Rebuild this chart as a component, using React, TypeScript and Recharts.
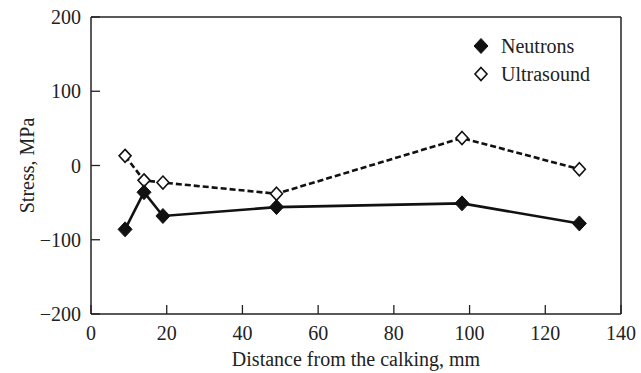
import { LineChart, Line, XAxis, YAxis, ReferenceLine } from 'recharts';

const distances = [9, 14, 19, 49, 98, 129];
const neutrons = [-86, -36, -68, -56, -51, -78];
const ultrasound = [13, -20, -23, -38, 37, -5];
const xTicks = [0, 20, 40, 60, 80, 100, 120, 140];
const yTicks = [-200, -100, 0, 100, 200];
const seriesNames = ['Neutrons', 'Ultrasound'];

const data = distances.map((d, i) => ({ d, neutrons: neutrons[i], ultrasound: ultrasound[i] }));

const FONT = '"Liberation Serif", "Times New Roman", serif';

function Diamond({ cx, cy, filled }: { cx: number; cy: number; filled: boolean }) {
  const w = filled ? 7 : 6;
  const h = filled ? 7.5 : 6.5;
  return (
    <polygon
      points={`${cx},${cy - h} ${cx + w},${cy} ${cx},${cy + h} ${cx - w},${cy}`}
      fill={filled ? '#111' : '#fff'}
      stroke="#111"
      strokeWidth={filled ? 1 : 1.6}
    />
  );
}

function XTick({ x, y, payload }: any) {
  return (
    <g>
      <line x1={x} y1={y} x2={x} y2={y - 9} stroke="#222" strokeWidth={1.3} />
      <text x={x} y={y + 26} textAnchor="middle" fontSize={20} fill="#222" fontFamily={FONT}>
        {payload.value}
      </text>
    </g>
  );
}

function YTick({ x, y, payload }: any) {
  const v = payload.value;
  return (
    <g>
      <line x1={x} y1={y} x2={x + 9} y2={y} stroke="#222" strokeWidth={1.3} />
      <text x={x - 10} y={y + 7} textAnchor="end" fontSize={20} fill="#222" fontFamily={FONT}>
        {v < 0 ? `\u2212${Math.abs(v)}` : v}
      </text>
    </g>
  );
}

function LegendBox() {
  return (
    <div style={{ position: 'absolute', left: 472, top: 32, fontFamily: FONT, fontSize: 20, color: '#222' }}>
      {seriesNames.map((name, i) => (
        <div key={name} style={{ display: 'flex', alignItems: 'center', height: 28 }}>
          <svg width={20} height={20} style={{ marginRight: 9 }}>
            <Diamond cx={9} cy={10} filled={i === 0} />
          </svg>
          <span>{name}</span>
        </div>
      ))}
    </div>
  );
}

export default function App() {
  return (
    <div style={{ position: 'absolute', left: 0, top: 0, width: 641, height: 373, background: '#fff' }}>
      <LineChart width={641} height={373} data={data} margin={{ top: 17, right: 20, bottom: 0, left: 0 }}>
        <XAxis
          dataKey="d"
          type="number"
          domain={[0, 140]}
          ticks={xTicks}
          tickSize={0}
          tickMargin={0}
          tick={<XTick />}
          height={59}
          axisLine={{ stroke: '#222', strokeWidth: 1.5 }}
          label={{
            content: ({ viewBox }: any) => (
              <text
                x={viewBox.x + viewBox.width / 2}
                y={viewBox.y + 52}
                textAnchor="middle"
                fontSize={20}
                fill="#222"
                fontFamily={FONT}
              >
                Distance from the calking, mm
              </text>
            ),
          }}
        />
        <YAxis
          type="number"
          domain={[-200, 200]}
          ticks={yTicks}
          tickSize={0}
          tickMargin={0}
          tick={<YTick />}
          width={91}
          axisLine={{ stroke: '#222', strokeWidth: 1.5 }}
          label={{
            content: ({ viewBox }: any) => {
              const cx = viewBox.x + 27;
              const cy = viewBox.y + viewBox.height / 2;
              return (
                <text
                  x={cx}
                  y={cy}
                  transform={`rotate(-90 ${cx} ${cy})`}
                  textAnchor="middle"
                  dominantBaseline="central"
                  fontSize={20}
                  fill="#222"
                  fontFamily={FONT}
                >
                  Stress, MPa
                </text>
              );
            },
          }}
        />
        <ReferenceLine y={200} stroke="#222" strokeWidth={1.5} ifOverflow="visible" />
        <ReferenceLine x={140} stroke="#222" strokeWidth={1.5} ifOverflow="visible" />
        <Line
          dataKey="ultrasound"
          stroke="#111"
          strokeWidth={2.6}
          strokeDasharray="6 3"
          dot={(p: any) => <Diamond key={`u${p.index}`} cx={p.cx} cy={p.cy} filled={false} />}
          isAnimationActive={false}
        />
        <Line
          dataKey="neutrons"
          stroke="#111"
          strokeWidth={2.6}
          dot={(p: any) => <Diamond key={`n${p.index}`} cx={p.cx} cy={p.cy} filled={true} />}
          isAnimationActive={false}
        />
      </LineChart>
      <LegendBox />
    </div>
  );
}
